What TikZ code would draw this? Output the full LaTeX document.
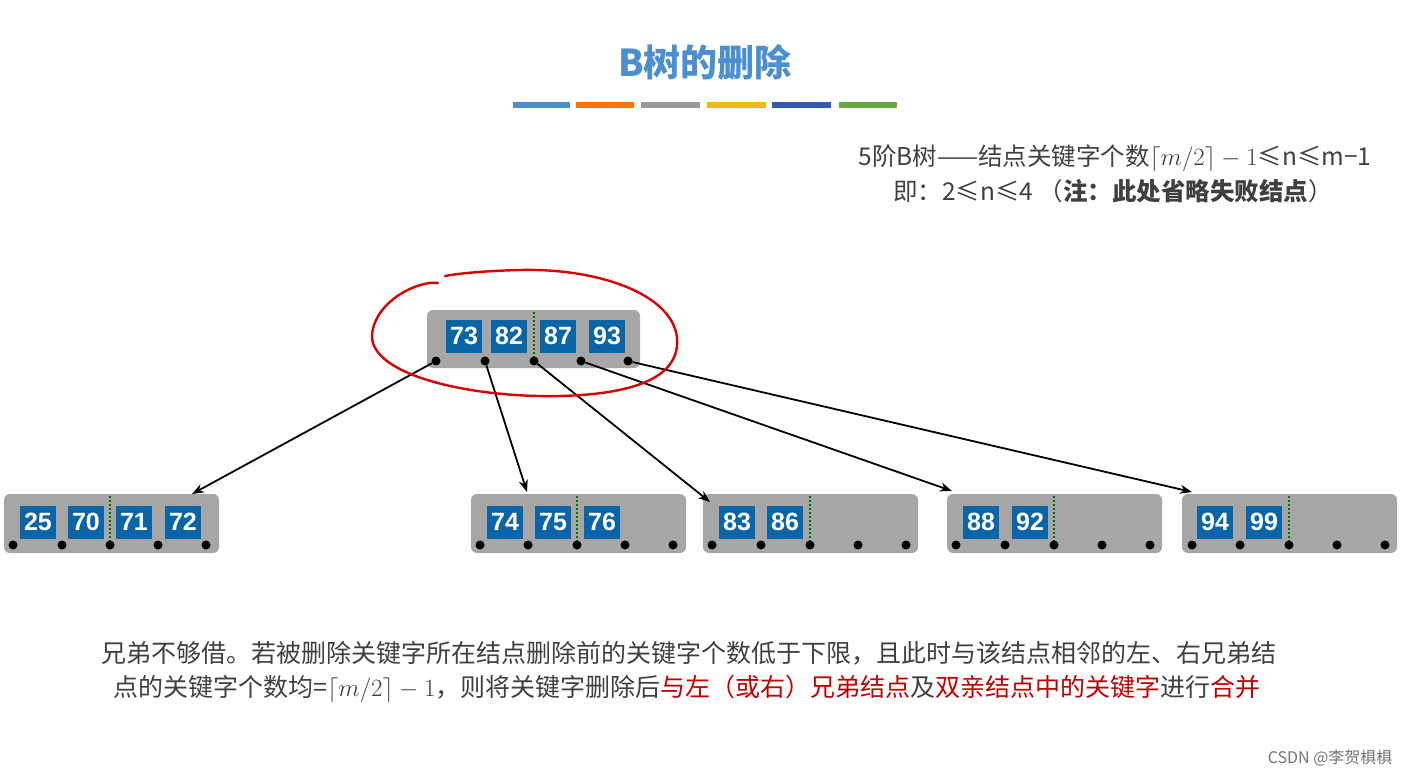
\documentclass[tikz,border=0pt]{standalone}
\usepackage{fontspec}
\setmainfont{Noto Sans CJK SC}
\newfontfamily\lat{Liberation Sans}
\usetikzlibrary{arrows.meta}
\definecolor{keyblue}{HTML}{0A64A8}
\definecolor{nodegray}{HTML}{A6A6A6}
\definecolor{titleblue}{HTML}{4A8FD0}
\definecolor{redtxt}{HTML}{C00000}
\tikzset{
  bnode/.style={fill=nodegray,rounded corners=6pt},
  keybox/.style={fill=keyblue,text=white,minimum width=36pt,minimum height=33pt,inner sep=0pt,font=\lat\bfseries\fontsize{25}{25}\selectfont},
  pdot/.style={circle,fill=black,inner sep=0pt,minimum size=9pt},
  sep/.style={draw=green!45!black,line width=1.8pt,dash pattern=on 2pt off 2pt},
  arr/.style={-{Stealth[length=12pt,width=9pt]},line width=1.8pt},
  bar/.style={line width=6pt}
}
\begin{document}
\begin{tikzpicture}[x=1pt,y=-1pt]
\useasboundingbox (0,0) rectangle (1409,778);
\fill[white] (0,0) rectangle (1409,778);
% title
\node (title) at (705,62) {\fontsize{37}{37}\selectfont\bfseries\color{titleblue}B树的删除};
\draw[bar,color=titleblue] (513,105) -- (570,105);
\draw[bar,color=orange!90!red] (576,105) -- (634,105);
\draw[bar,color=gray!80] (641,105) -- (700,105);
\draw[bar,color={rgb,255:red,240;green,185;blue,20}] (707,105) -- (766,105);
\draw[bar,color={rgb,255:red,50;green,90;blue,180}] (772,105) -- (831,105);
\draw[bar,color={rgb,255:red,100;green,170;blue,60}] (839,105) -- (897,105);
% top-right note
\node (n1) at (1115,158) {\fontsize{24.5}{24.5}\selectfont\color{black!75}5阶B树——结点关键字个数$\lceil m/2\rceil-1$≤n≤m−1};
\node (n2) at (1113,191) {\fontsize{24.5}{24.5}\selectfont\color{black!75}即：2≤n≤4 （\textbf{注：此处省略失败结点}）};
% root
\fill[bnode] (427,310) rectangle (640,368);
\foreach \x/\k in {464/73,509/82,558/87,607/93} \node[keybox] (r\k) at (\x,336) {\k};
\draw[sep] (534,312) -- (534,358);
\foreach \x [count=\i] in {436,485,534,581,628} \node[pdot] (rp\i) at (\x,361) {};
% children
\newcommand\child[5]{%
  \fill[bnode] (#2,494) rectangle ++(215,59);
  \foreach \x/\k in {#3} \node[keybox] at (\x,522) {\k};
  \draw[sep] (#4,496) -- (#4,542);
  \foreach \x [count=\i] in {#5} \node[pdot] (#1\i) at (\x,545) {};
}
\child{a}{4}{38/25,86/70,134/71,183/72}{110}{13,62,110,158,206}
\child{b}{471}{505/74,553/75,602/76}{577}{480,528,577,625,673}
\child{c}{703}{737/83,785/86}{810}{712,761,810,858,906}
\child{d}{947}{981/88,1030/92}{1054}{956,1005,1054,1102,1150}
\child{e}{1182}{1215/94,1264/99}{1289}{1192,1240,1289,1337,1385}
\coordinate (ta) at (192,494);
\coordinate (tb) at (527,492);
\coordinate (tc) at (710,502);
\coordinate (td) at (952,491);
\coordinate (te) at (1192,492);
\draw[arr] (rp1) -- (ta);
\draw[arr] (rp2) -- (tb);
\draw[arr] (rp3) -- (tc);
\draw[arr] (rp4) -- (td);
\draw[arr] (rp5) -- (te);
% red hand-drawn circle
\draw[red!85!black,line width=2.4pt,line cap=round] (438,283) .. controls (420,280) and (375,300) .. (372,335)
  .. controls (370,375) and (470,398) .. (560,396)
  .. controls (640,394) and (680,375) .. (677,338)
  .. controls (673,295) and (600,268) .. (520,270)
  .. controls (480,271) and (455,274) .. (445,276);
% bottom text
\node[anchor=west] (b1) at (98,653) {\fontsize{25}{25}\selectfont\color{black!75}兄弟不够借。若被删除关键字所在结点删除前的关键字个数低于下限，且此时与该结点相邻的左、右兄弟结};
\node[anchor=west] (b2) at (110,689) {\fontsize{25}{25}\selectfont\color{black!75}点的关键字个数均=$\lceil m/2\rceil-1$，则将关键字删除后\textcolor{redtxt}{与左（或右）兄弟结点}及\textcolor{redtxt}{双亲结点中的关键字}进行\textcolor{redtxt}{合并}};
\node[anchor=east] (wm) at (1396,758) {\fontsize{16}{16}\selectfont\color{black!55}CSDN @李贺椇椇};
\end{tikzpicture}
\end{document}
